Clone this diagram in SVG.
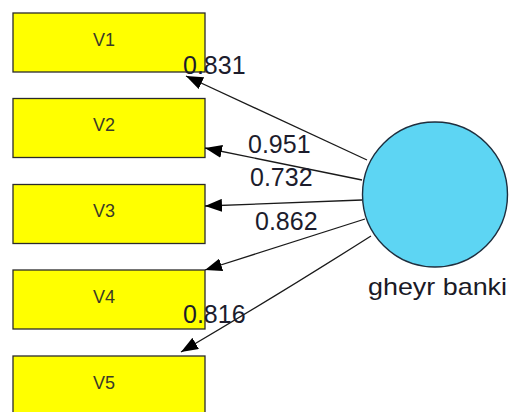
<svg xmlns="http://www.w3.org/2000/svg" width="513" height="412" viewBox="0 0 513 412">
<style>
.box{fill:#ffff00;stroke:#2b2b2b;stroke-width:1.3}
.bt{font-family:"Liberation Sans",Arial,sans-serif;font-size:18px;fill:#3a3a28;text-anchor:middle}
.num{font-family:"Liberation Sans",Arial,sans-serif;font-size:25px;fill:#1c1c2c}
.edge{fill:none;stroke:#1a1a1a;stroke-width:1.3}
</style>
<defs>
<marker id="ah" viewBox="0 0 17 13" refX="17" refY="6.5" markerWidth="17" markerHeight="13" markerUnits="userSpaceOnUse" orient="auto">
<path d="M0,0 L17,6.5 L0,13 z" fill="#000"/>
</marker>
</defs>
<rect width="513" height="412" fill="#ffffff"/>
<g id="V1"><rect class="box" x="13" y="13" width="192" height="59"/><text class="bt" x="104" y="46">V1</text></g>
<g id="V2"><rect class="box" x="13" y="98.5" width="192" height="59"/><text class="bt" x="104" y="131">V2</text></g>
<g id="V3"><rect class="box" x="13" y="184.5" width="192" height="59"/><text class="bt" x="104" y="217">V3</text></g>
<g id="V4"><rect class="box" x="13" y="270" width="192" height="59"/><text class="bt" x="104" y="303">V4</text></g>
<g id="V5"><rect class="box" x="13" y="356" width="192" height="59"/><text class="bt" x="104" y="389">V5</text></g>
<g id="connectors">
<path class="edge" d="M367,160 L186,76" marker-end="url(#ah)"/>
<path class="edge" d="M362,180 L205,148" marker-end="url(#ah)"/>
<path class="edge" d="M362,200 L205,206" marker-end="url(#ah)"/>
<path class="edge" d="M365,219 L205,270" marker-end="url(#ah)"/>
<path class="edge" d="M371,236 Q270,300 181,352" marker-end="url(#ah)"/>
</g>
<g id="labels">
<text class="num" x="183" y="74">0.831</text>
<text class="num" x="248" y="153">0.951</text>
<text class="num" x="250" y="186">0.732</text>
<text class="num" x="255" y="230">0.862</text>
<text class="num" x="183" y="323">0.816</text>
</g>
<g id="gheyr_banki">
<circle cx="435" cy="194.5" r="72.5" fill="#5dd5f3" stroke="#1e2e3e" stroke-width="1.4"/>
<text x="368" y="295" font-family="Liberation Sans, Arial, sans-serif" font-size="24" fill="#1a1a26" textLength="139" lengthAdjust="spacingAndGlyphs">gheyr banki</text>
</g>
</svg>
